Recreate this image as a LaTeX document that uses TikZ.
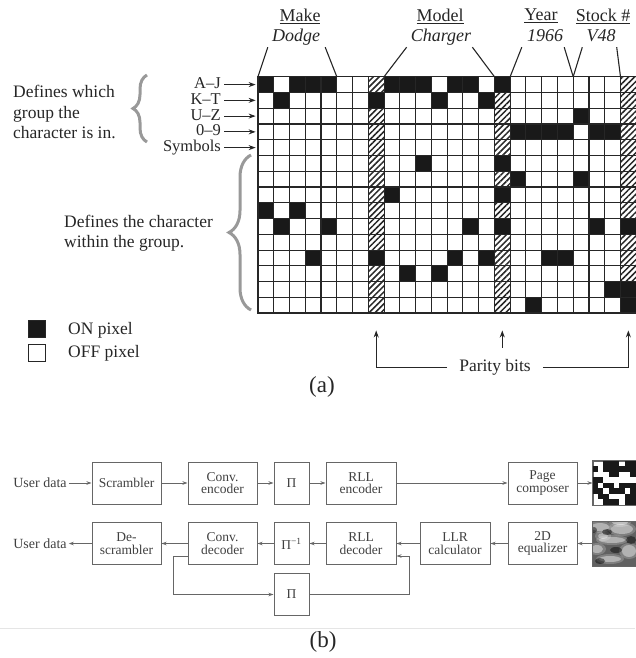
\documentclass[tikz,border=0pt]{standalone}
\usepackage{fontspec}
\setmainfont{Liberation Serif}
\usetikzlibrary{arrows.meta,patterns.meta,decorations.pathreplacing}

\tikzset{
  arr/.style={-{Stealth[length=7pt,width=5pt]}, line width=1pt, draw=black!85},
  barr/.style={-{Stealth[length=5pt,width=3.5pt]}, line width=1pt, draw=black!60},
  lead/.style={line width=1.1pt, draw=black!85},
  lbl/.style={inner sep=1pt, text=black!85, font=\fontsize{17.5}{17.5}\selectfont},
  grplbl/.style={lbl, font=\fontsize{16.5}{16.5}\selectfont, inner sep=0pt, text height=10.5pt, text depth=2.5pt},
  hdr/.style={lbl, font=\fontsize{18}{18}\selectfont},
  itl/.style={lbl, font=\fontsize{18}{18}\selectfont\itshape, text height=12pt, text depth=4pt},
  lbl2/.style={inner sep=2pt, text=black!75, font=\fontsize{14}{14}\selectfont},
  blk/.style={draw=black!60, line width=1pt, minimum height=42pt, inner sep=0pt, align=center,
    text=black!75, font=\fontsize{13.5}{12.5}\selectfont},
  keybox/.style={draw=black!85, line width=1pt, minimum size=17pt, inner sep=0pt},
  onpix/.style={fill=black!90},
  parcol/.style={pattern={Lines[angle=45,distance=4.2pt,line width=1.5pt]}, pattern color=black!85},
  grbrace/.style={decorate, decoration={brace, amplitude=#1}, draw=black!40, line width=3pt},
}

\begin{document}
\begin{tikzpicture}[x=1pt,y=-1pt]
\useasboundingbox (0,0) rectangle (635,658);

% (a) pixel page
\begin{scope}[shift={(258,76.7)}, x=15.76pt, y=-15.76pt]
  \foreach \c in {7,15,23} \fill[parcol] (\c,0) rectangle ++(1,15);
  \foreach \c/\r in {0/0,2/0,3/0,4/0,1/1,0/8,2/8,1/9,4/9,3/11,
                     7/1,7/11,
                     8/0,9/0,10/0,12/0,13/0,11/1,14/1,10/5,8/7,13/9,12/11,14/11,9/12,11/12,
                     15/0,15/5,15/7,15/9,
                     20/2,16/3,17/3,18/3,19/3,21/3,22/3,16/6,20/6,21/9,18/11,19/11,22/13,17/14,
                     23/9,23/13,23/14}
    \fill[onpix] (\c,\r) rectangle ++(1,1);
  \foreach \c in {0,...,24} \draw[line width=1.1pt, black!85] (\c,0) -- (\c,15);
  \foreach \r in {0,...,15} \draw[line width=1.1pt, black!85] (0,\r) -- (24,\r);
  \draw[line width=1.4pt, black!85] (0,0) rectangle (24,15);
  \foreach \c in {0,...,24} \coordinate (t\c) at (\c,0);
  \foreach \c in {7,15,23} \coordinate (a\c) at (\c+0.5,16.1);
  \coordinate (m15) at (15.5,17.2);
  \coordinate (gw) at (-0.15,0);
\end{scope}

% group rows
\foreach \t [count=\i from 0] in {A–J,K–T,U–Z,0–9,Symbols}{
  \node[grplbl, anchor=east] (grp\i) at (221,{76.7+(\i+0.5)*15.76}) {\t};
  \draw[arr] ([xshift=3pt]grp\i.east) -- (grp\i -| gw);
}

\draw[grbrace=14pt] (147,142) -- (147,75);
\draw[grbrace=22pt] (251,310) -- (251,155);
\node[lbl, anchor=west, align=left, font=\fontsize{17.5}{20.5}\selectfont] (grpnote) at (12,112)
  {Defines which\\group the\\character is in.};
\node[lbl, anchor=west, align=left, font=\fontsize{17.5}{20.5}\selectfont] (charnote) at (63,233)
  {Defines the character\\within the group.};

% legend
\node[keybox, fill=black!90] (onkey) at (37,328.5) {};
\node[keybox, fill=white] (offkey) at (37,353) {};
\node[lbl, anchor=west] (ontext) at (67,330) {ON pixel};
\node[lbl, anchor=west] (offtext) at (67,353) {OFF pixel};

% fields
\node[hdr] (make) at (300,16) {\underline{Make}};
\node[hdr] (model) at (440,16) {\underline{Model}};
\node[hdr] (year) at (541,16) {\underline{Year}};
\node[hdr] (stock) at (603,16) {\underline{Stock \#}};
\node[itl] (dodge) at (296,38) {Dodge};
\node[itl] (charger) at (441,38) {Charger};
\node[itl] (yr) at (545,38) {1966};
\node[itl] (vnum) at (601,38) {V48};
\draw[lead] ([xshift=-3pt]dodge.south west) -- (t0);
\draw[lead] ([xshift=4pt]dodge.south east) -- (t5);
\draw[lead] ([xshift=-3pt]charger.south west) -- (t8);
\draw[lead] (charger.south east) -- (t15);
\draw[lead] ([xshift=-4pt]yr.south west) -- (t16);
\draw[lead] (yr.south east) -- (t20);
\draw[lead] ([xshift=-3pt]vnum.south west) -- (t20);
\draw[lead] (vnum.south east) -- (t23);

% parity
\node[lbl] (parity) at (495,367) {Parity bits};
\draw[arr] ([xshift=-11pt]parity.west) -| (a7);
\draw[arr] ([xshift=11pt]parity.east) -| (a23);
\draw[arr] (m15) -- (a15);
\node[lbl, font=\fontsize{23}{23}\selectfont] (capa) at (322,387) {(a)};

% (b) channel
\node[lbl2] (usrin) at (40,483) {User data};
\node[blk, minimum width=69pt] (scr) at (126.5,483) {Scrambler};
\node[blk, minimum width=69pt] (cenc) at (222.5,483) {Conv.\\encoder};
\node[blk, minimum width=35pt] (pi1) at (291.5,483) {Π};
\node[blk, minimum width=70pt] (rlle) at (361,483) {RLL\\encoder};
\node[blk, minimum width=69pt] (pgc) at (542.5,483) {Page\\composer};
\node[draw=black!60, line width=1pt, minimum width=43pt, minimum height=44pt, inner sep=0pt] (pgimg) at (614.5,483) {};

\node[lbl2] (usrout) at (40,543.5) {User data};
\node[blk, minimum width=69pt] (dscr) at (126.5,543.5) {De-\\scrambler};
\node[blk, minimum width=69pt] (cdec) at (222.5,543.5) {Conv.\\decoder};
\node[blk, minimum width=35pt] (pinv) at (291.5,543.5) {Π\textsuperscript{−1}};
\node[blk, minimum width=70pt] (rlld) at (361,543.5) {RLL\\decoder};
\node[blk, minimum width=70pt] (llr) at (455,543.5) {LLR\\calculator};
\node[blk, minimum width=69pt] (eq2d) at (542.5,543.5) {2D\\equalizer};
\node[draw=black!60, line width=1pt, minimum width=43pt, minimum height=44pt, inner sep=0pt] (eqimg) at (614.5,543.5) {};

\node[blk, minimum width=35pt] (pi2) at (291.5,594.5) {Π};

% written page
\begin{scope}[shift={(pgimg.north west)}, x=5.375pt, y=-5.5pt]
  \foreach \bits [count=\r from 0] in {{0,0,1,1,1,0,1,1},{1,0,1,1,1,1,1,1},{0,0,0,1,1,0,0,1},
      {1,1,0,0,0,0,0,0},{1,0,1,1,0,1,1,1},{1,1,0,1,1,1,0,1},{0,1,1,0,0,0,1,1},{0,0,1,1,1,0,1,1}}{
    \foreach \b [count=\c from 0] in \bits {
      \ifnum\b=1 \fill[black!90] (\c,\r) rectangle ++(1,1); \fi
    }
  }
\end{scope}
\draw[draw=black!60, line width=1pt] (pgimg.north west) rectangle (pgimg.south east);

% read-back page
\begin{scope}
  \clip (eqimg.north west) rectangle (eqimg.south east);
  \fill[black!62] (eqimg.north west) rectangle (eqimg.south east);
  \foreach \x/\y/\a/\b in {600/527/9/4,622/529/11/5,612/540/13/3,597/549/6/4,629/551/7/6,610/559/11/3,
      620/522/8/3,603/536/5/3}{
    \fill[white, opacity=0.2] (\x,\y) ellipse[x radius=\a+3, y radius=\b+2];
    \fill[white, opacity=0.4] (\x,\y) ellipse[x radius=\a, y radius=\b];
  }
  \foreach \x/\y/\a/\b in {607/532/5/3,631/540/5/4,616/550/6/3,600/561/5/3,594/530/3/3}
    \fill[black, opacity=0.45] (\x,\y) ellipse[x radius=\a, y radius=\b];
\end{scope}
\draw[draw=black!60, line width=1pt] (eqimg.north west) rectangle (eqimg.south east);

\draw[barr] (usrin) -- (scr);
\draw[barr] (scr) -- (cenc);
\draw[barr] (cenc) -- (pi1);
\draw[barr] (pi1) -- (rlle);
\draw[barr] (rlle) -- (pgc);
\draw[barr] (pgc) -- (pgimg);

\draw[barr] (eqimg) -- (eq2d);
\draw[barr] (eq2d) -- (llr);
\draw[barr] (llr) -- (rlld);
\draw[barr] (rlld) -- (pinv);
\draw[barr] (pinv) -- (cdec);
\draw[barr] (cdec) -- (dscr);
\draw[barr] (dscr) -- (usrout);

\draw[barr] ([yshift=-12.5pt]cdec.west) -- ++(-14,0) |- (pi2.west);
\draw[barr] (pi2.east) -- ++(100,0) |- ([yshift=-12.5pt]rlld.east);

\draw[black!10, line width=0.8pt] (0,628) -- (635,628);
\node[lbl, font=\fontsize{23}{23}\selectfont] (capb) at (323,642) {(b)};
\end{tikzpicture}
\end{document}
